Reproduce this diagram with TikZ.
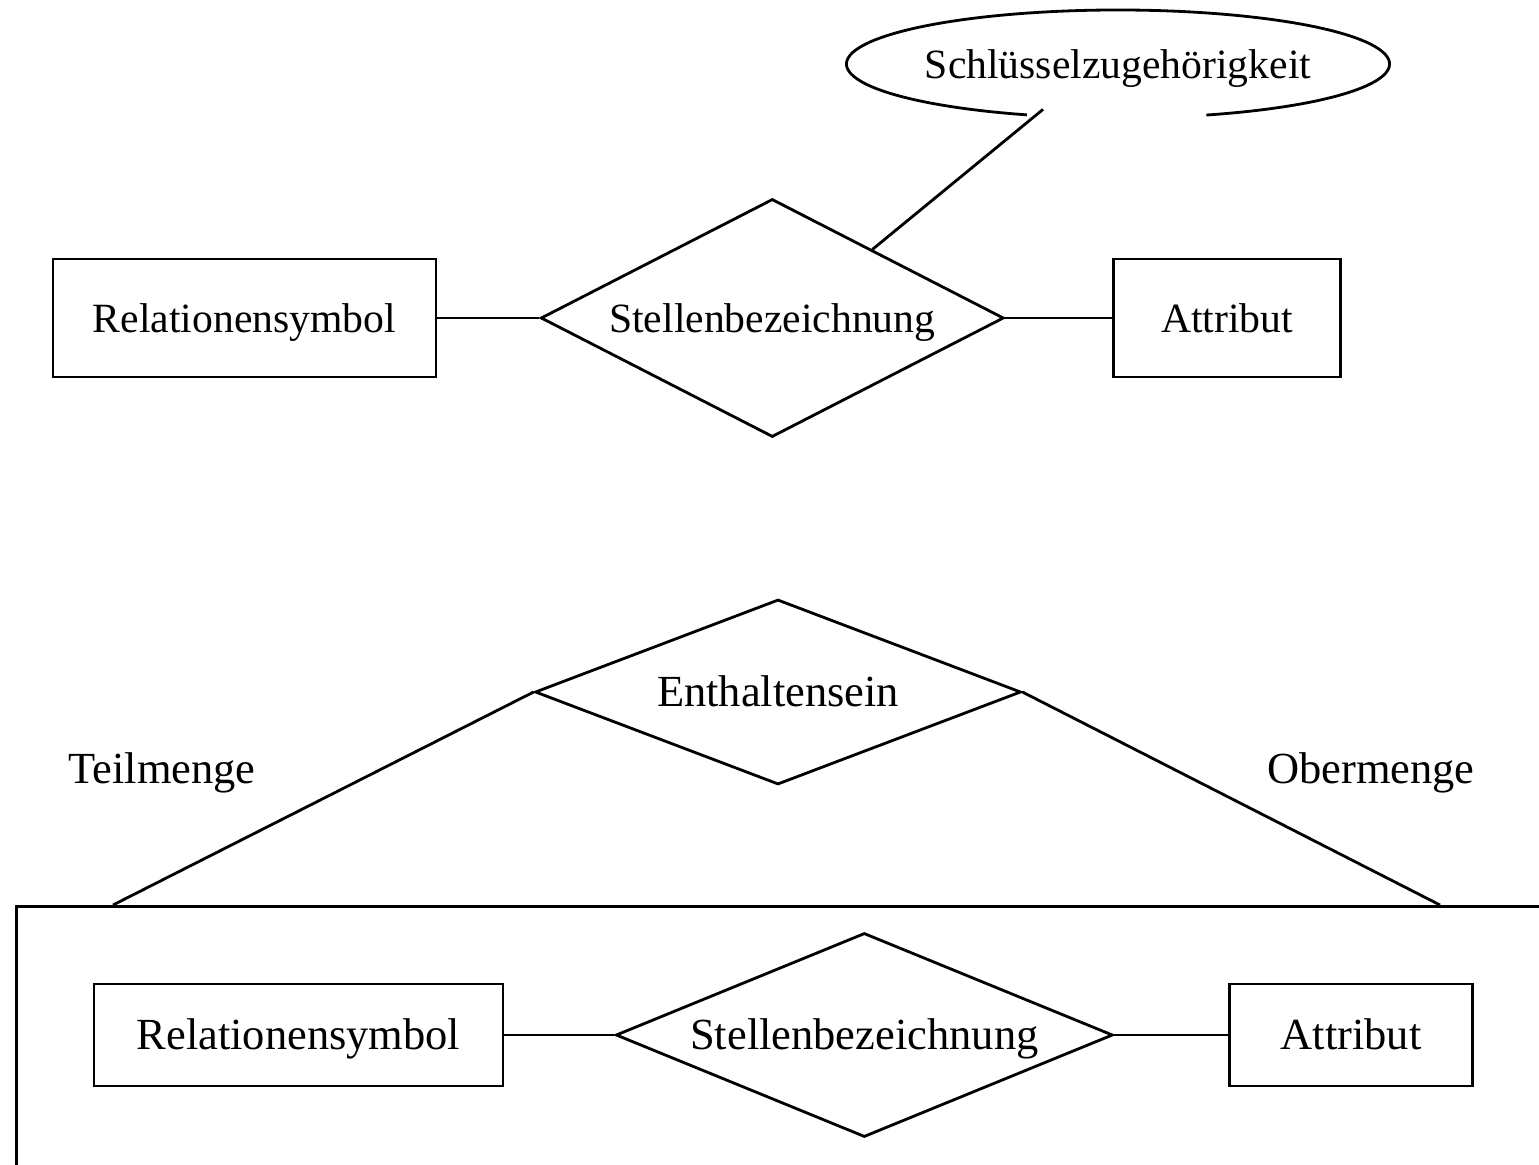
\documentclass[tikz,border=0pt]{standalone}
\usepackage{fontspec}
\setmainfont{Liberation Serif}
\usetikzlibrary{shapes,positioning,calc}
\tikzset{
    erBase/.style={
        draw,
        line width=1.6pt,
        inner sep=0pt,
        align=center,
        text height=16.6pt,
        text depth=0pt
    },
    % ER shapes
    entity/.style={erBase, rectangle},
    relship/.style={erBase, diamond, aspect=2.4},
    attrib/.style={erBase, ellipse},
    % Lines and fonts
    erLine/.style={line width=1.6pt},
    upperFont/.style={font=\fontsize{23.7}{28}\selectfont},
    lowerFont/.style={font=\fontsize{25.3}{30}\selectfont}
}
\begin{document}
\begin{tikzpicture}
\useasboundingbox (0,0) rectangle (30.78,23.28);
\clip (0,0) rectangle (30.78,23.28);

% upper part
\node[entity, upperFont, minimum width=7.66cm, minimum height=2.36cm] (rel1) at (4.89,16.92) {Relationensymbol};
\node[relship, upperFont, minimum width=9.26cm, minimum height=4.76cm, right=2.04cm of rel1] (stelle1) {Stellenbezeichnung};
\node[entity, upperFont, minimum width=4.54cm, minimum height=2.36cm, right=2.14cm of stelle1] (attr1) {Attribut};
\node[attrib, draw=none, upperFont, minimum width=10.86cm, minimum height=2.16cm] (key) at (22.36,22.0) {Schlüsselzugehörigkeit};
\draw[erLine] ([shift={(289:5.43cm and 1.08cm)}]key.center) arc[start angle=289, end angle=610.4, x radius=5.43cm, y radius=1.08cm];
\coordinate (keyfoot) at ($(key.south)+(-1.5,0.2)$);

\draw[erLine] (rel1) -- (stelle1);
\draw[erLine] (stelle1) -- (attr1);
\draw[erLine] ($(stelle1.north)!0.43!(stelle1.east)$) -- (keyfoot);

% lower part
\node[relship, lowerFont, minimum width=9.72cm, minimum height=3.7cm] (enth) at (15.56,9.44) {Enthaltensein};
\node[entity, minimum width=32cm, minimum height=6cm, anchor=north west] (frame) at (0.3,5.18) {};
\coordinate (subEnd) at ($(frame.north west)+(1.96,0)$);
\coordinate (supEnd) at ($(frame.north west)+(28.5,0)$);
\draw[erLine] (enth.west) -- (subEnd);
\draw[erLine] (enth.east) -- (supEnd);
\node[lowerFont] (sub) at (3.24,7.82) {Teilmenge};
\node[lowerFont] (sup) at (27.42,7.82) {Obermenge};

\node[entity, lowerFont, minimum width=8.18cm, minimum height=2.04cm] (rel2) at (5.97,2.58) {Relationensymbol};
\node[relship, lowerFont, minimum width=9.94cm, minimum height=4.08cm, right=2.2cm of rel2] (stelle2) {Stellenbezeichnung};
\node[entity, lowerFont, minimum width=4.86cm, minimum height=2.04cm, right=2.28cm of stelle2] (attr2) {Attribut};

\draw[erLine] (rel2) -- (stelle2);
\draw[erLine] (stelle2) -- (attr2);
\end{tikzpicture}
\end{document}
